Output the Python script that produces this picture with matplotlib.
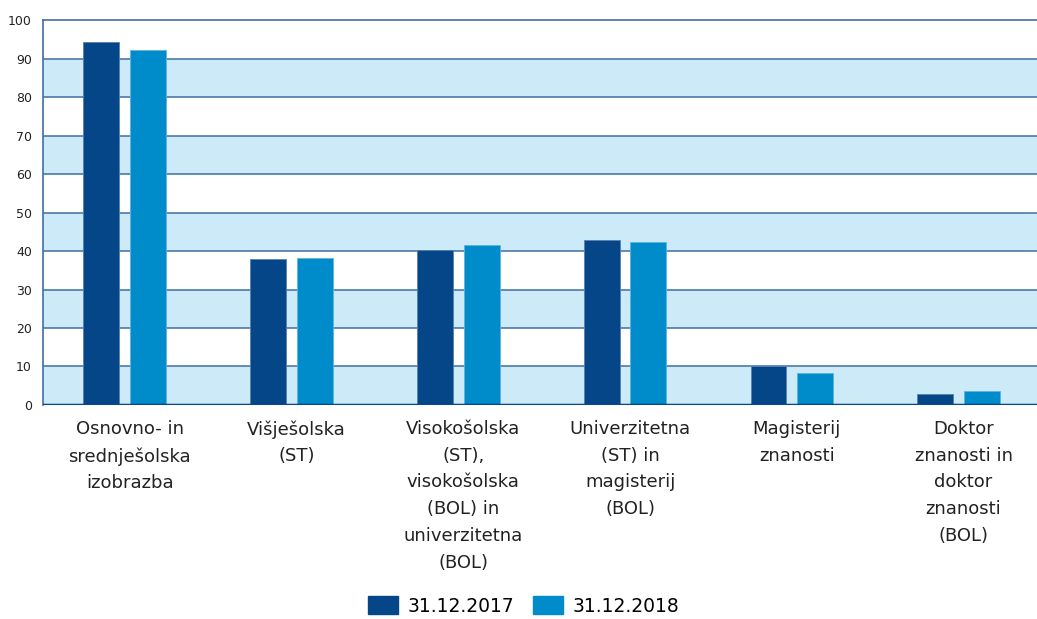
import numpy as np
import matplotlib.pyplot as plt
from matplotlib.patches import Patch

categories = ["Osnovno- in\nsrednješolska\nizobrazba",
              "Višješolska\n(ST)",
              "Visokošolska\n(ST),\nvisokošolska\n(BOL) in\nuniverzitetna\n(BOL)",
              "Univerzitetna\n(ST) in\nmagisterij\n(BOL)",
              "Magisterij\nznanosti",
              "Doktor\nznanosti in\ndoktor\nznanosti\n(BOL)"]
v2017 = [94.4, 37.9, 40.4, 42.9, 10.0, 2.8]
v2018 = [92.3, 38.2, 41.7, 42.3, 8.4, 3.7]
series_names = ["31.12.2017", "31.12.2018"]

c_dark = "#044687"
c_light = "#008bca"
c_band = "#cceaf7"
c_grid = "#3f6fa3"

fig = plt.figure(figsize=(10.37, 6.19), dpi=100)
ax = fig.add_axes([0.0415, 0.346, 0.9585, 0.621])

x = np.arange(len(categories))
w = 0.215
off = 0.14

# alternating bands
for lo in range(0, 100, 20):
    ax.axhspan(lo, lo + 10, color=c_band, zorder=0, lw=0)
for yv in range(10, 100, 10):
    ax.axhline(yv, color=c_grid, lw=1.1, zorder=1)

ax.bar(x - off, v2017, w, color=c_dark, edgecolor="#5a7fb0", lw=0.6, zorder=3)
ax.bar(x + off, v2018, w, color=c_light, edgecolor="#5fb3dd", lw=0.6, zorder=3)

ax.set_xlim(-0.49, 5.47)
ax.set_ylim(0, 100)
ax.set_yticks(range(0, 101, 10))
ax.tick_params(axis="y", length=0, labelsize=9, labelcolor="#222222", pad=8)
ax.tick_params(axis="x", length=0, pad=11)
ax.set_xticks(x + 0.03)
ax.set_xticklabels(categories, fontsize=13, color="#222222", linespacing=1.62, va="top")

for s in ["right", "bottom"]:
    ax.spines[s].set_visible(False)
for s in ["left", "top"]:
    ax.spines[s].set_color(c_grid)
    ax.spines[s].set_linewidth(1.2)
ax.axhline(0, color=c_dark, lw=2.5, zorder=4)

handles = [Patch(color=c_dark), Patch(color=c_light)]
fig.legend(handles, series_names, loc="lower center", ncol=2, frameon=False,
           fontsize=13.5, bbox_to_anchor=(0.505, -0.022), handlelength=1.6,
           handleheight=1.1, columnspacing=1.0, handletextpad=0.5)

fig.savefig("out.png", dpi=100)
